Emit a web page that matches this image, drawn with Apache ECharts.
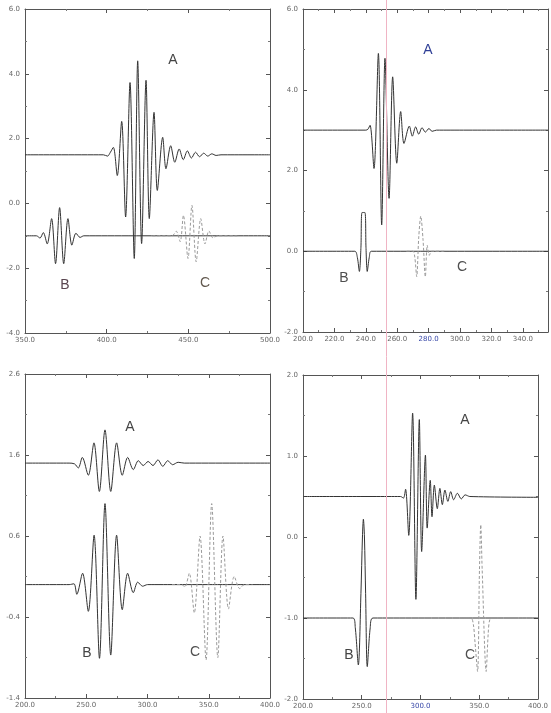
<!DOCTYPE html>
<html>
<head>
<meta charset="utf-8">
<script src="https://cdn.jsdelivr.net/npm/echarts@6/dist/echarts.min.js"></script>
<style>
  html, body { margin: 0; padding: 0; background: #ffffff; }
  #chart { width: 551px; height: 713px; }
</style>
</head>
<body>
<div id="chart"></div>
<script>
// ---- wave traces: [time, amplitude] pairs ----
// panel 1 (upper left)
const p1A = [[350,1.5],[398,1.5],[400.5,1.46],[402.3,1.58],[404.1,1.73],[406.5,0.86],[409.2,2.53],[411.6,-0.42],[414.3,3.73],[416.9,-1.70],[419.0,4.40],[421.4,-1.24],[424.1,3.8],[426.1,-0.47],[429.0,2.81],[431.0,0.40],[434.3,2.04],[436.3,1.07],[439.2,1.78],[441.7,1.27],[444.4,1.68],[446.9,1.35],[449.4,1.62],[451.9,1.40],[454.4,1.58],[456.9,1.44],[459.4,1.55],[461.9,1.46],[464.4,1.53],[467,1.48],[470,1.5],[500,1.5]];
const p1B = [[350,-1],[357,-1],[359.2,-1.07],[361.2,-0.9],[363.6,-1.25],[366.3,-0.47],[368.7,-1.86],[371.2,-0.13],[373.7,-1.86],[376.3,-0.47],[378.7,-1.29],[381.2,-0.92],[383.7,-1.05],[386,-1],[500,-1]];
const p1C = [[428,-1],[440,-1],[442.6,-0.86],[445,-1.18],[447,-0.37],[449.8,-1.70],[452.2,-0.06],[454.8,-1.80],[457.6,-0.47],[460.2,-1.25],[462.6,-0.85],[465,-1.06],[468,-1],[480,-1]];

// panel 2 (upper right)
const p2A = [[200,3],[240,3],[241.3,3.02],[242.7,3.12],[245.2,2.05],[248.0,4.90],[250.1,0.65],[252.2,4.78],[254.8,1.31],[257.1,4.32],[259.7,2.18],[262.2,3.46],[264.3,2.67],[267.7,3.10],[269.6,2.85],[271.7,3.08],[273.7,2.90],[275.8,3.06],[277.9,2.95],[280.2,3.04],[282.2,2.97],[285,3],[356,3]];
const p2B = [[200,0],[233,0],[234.6,-0.15],[235.9,-0.5],[236.9,0.1],[237.6,0.96],[239.4,0.96],[240.1,0.1],[240.9,-0.5],[242.2,-0.15],[243.5,0],[356,0]];
const p2C = [[266,0],[270,0],[271.2,-0.15],[272.4,-0.63],[273.7,0.35],[275,0.87],[276.4,0.3],[277.9,-0.63],[279.1,0.15],[280.4,-0.1],[282,0],[290,0]];

// panel 3 (lower left)
const p3A = [[200,1.5],[236,1.5],[240.5,1.49],[243.5,1.44],[246.8,1.57],[251.7,1.35],[256.3,1.75],[260.7,1.15],[265.3,1.91],[270,1.15],[274.8,1.75],[279.4,1.35],[283.8,1.57],[288.4,1.42],[292.5,1.53],[296.5,1.47],[300.5,1.52],[304.5,1.47],[308.5,1.54],[312.5,1.46],[316.5,1.53],[320.5,1.48],[325,1.51],[330,1.5],[400,1.5]];
const p3B = [[200,0],[236,0],[240,0.01],[242.3,-0.12],[247,0.14],[251.7,-0.33],[256.4,0.61],[260.8,-0.91],[265.3,1.0],[270,-0.87],[274.8,0.61],[279.4,-0.31],[283.8,0.14],[288.4,-0.1],[292,0.03],[296,-0.02],[300,0],[400,0]];
const p3C = [[320,0],[328,0],[330.5,-0.03],[334.1,0.14],[338.2,-0.35],[342.9,0.6],[347.8,-0.93],[352.4,1.0],[357.4,-0.9],[361.6,0.6],[366.1,-0.3],[370.8,0.1],[375.3,-0.05],[379,0],[385,0]];

// panel 4 (lower right)
const p4A = [[200,0.5],[283,0.5],[285.5,0.48],[287.3,0.59],[290.0,0.02],[293.3,1.53],[296.1,-0.77],[299.0,1.45],[301.0,-0.18],[304.2,1.01],[305.7,0.11],[308.3,0.70],[309.8,0.25],[311.8,0.64],[314.3,0.35],[316.5,0.60],[318.6,0.40],[320.8,0.58],[323.3,0.44],[325.7,0.56],[328.2,0.46],[331.4,0.54],[334.7,0.47],[338,0.52],[342,0.5],[400,0.49]];
const p4B = [[200,-1],[242.5,-1],[244.5,-1.12],[247.1,-1.58],[249.3,-0.7],[250.6,0.0],[251.4,0.22],[252.3,0.0],[253.3,-0.7],[254.7,-1.6],[257.2,-1.12],[259.6,-1.0],[400,-1]];
const p4C = [[336,-1],[343,-1],[345,-1.08],[346.4,-1.3],[348.6,-1.66],[350.2,-0.4],[351.3,0.15],[352.5,-0.4],[355.9,-1.66],[357.6,-1.2],[359,-1.02],[362,-1],[370,-1]];

// ---- axis scales: [min, max, step] ----
const xScale1 = [350, 500, 50], yScale1 = [-4, 6, 2];
const xScale2 = [200, 356, 20], yScale2 = [-2, 6, 2];
const xScale3 = [200, 400, 50], yScale3 = [-1.4, 2.6, 1];
const xScale4 = [200, 400, 50], yScale4 = [-2, 2, 1];

// tick values whose labels were inked in blue
const blueTicks2 = [280];
const blueTicks4 = [300];

const traceLabels = ['A', 'B', 'C'];

// ---- layout ----
const FONT = '"Liberation Sans", Arial, sans-serif';
const INK = '#333333';
const AXIS = '#555555';

const panels = [
  { box: { left: 25,  top: 9,   width: 245, height: 324 }, xs: xScale1, ys: yScale1, traces: [p1A, p1B, p1C], blue: [],
    tags: [[173, 60, '#444444'], [65, 285, '#5a4650'], [205, 283, '#62594f']] },
  { box: { left: 303, top: 9,   width: 245, height: 323 }, xs: xScale2, ys: yScale2, traces: [p2A, p2B, p2C], blue: blueTicks2,
    tags: [[428, 50, '#2f3f96'], [344, 278, '#4f4f4f'], [462, 267, '#4f4f4f']] },
  { box: { left: 25,  top: 374, width: 245, height: 324 }, xs: xScale3, ys: yScale3, traces: [p3A, p3B, p3C], blue: [],
    tags: [[130, 427, '#444444'], [87, 653, '#444444'], [195, 652, '#505050']] },
  { box: { left: 303, top: 375, width: 245, height: 324 }, xs: xScale4, ys: yScale4, traces: [p4A, p4B, p4C], blue: blueTicks4,
    tags: [[465, 420, '#444444'], [349, 655, '#444444'], [470, 655, '#505050']] }
];

const fmt = v => (Math.round(v * 10) / 10).toFixed(1);

function makeAxis(kind, gi, sc, position, withLabels, blue) {
  const step = sc[2];
  return {
    type: 'value', gridIndex: gi, position: position,
    min: sc[0], max: sc[1], interval: step,
    axisLine: { show: true, onZero: false, lineStyle: { color: AXIS, width: 1 } },
    axisTick: { show: true, inside: true, length: 4, lineStyle: { color: AXIS } },
    minorTick: { show: true, splitNumber: 2, length: 2, lineStyle: { color: '#777' } },
    splitLine: { show: false },
    axisLabel: {
      show: withLabels, fontSize: 7, color: '#666', fontFamily: '"DejaVu Sans", sans-serif',
      margin: kind === 'x' ? 4 : 5,
      rich: { b: { color: '#3848a8', fontSize: 7, fontFamily: '"DejaVu Sans", sans-serif' } },
      formatter: v => {
        const k = (v - sc[0]) / step;
        if (Math.abs(k - Math.round(k)) > 1e-6) return '';
        const s = fmt(v);
        return (blue || []).some(b => Math.abs(b - v) < 1e-6) ? '{b|' + s + '}' : s;
      }
    }
  };
}

const grid = [], xAxis = [], yAxis = [], series = [], graphic = [];

panels.forEach((p, i) => {
  grid.push(Object.assign({ containLabel: false }, p.box));
  xAxis.push(makeAxis('x', i, p.xs, 'bottom', true, p.blue));
  xAxis.push(makeAxis('x', i, p.xs, 'top', false));
  yAxis.push(makeAxis('y', i, p.ys, 'left', true));
  yAxis.push(makeAxis('y', i, p.ys, 'right', false));

  p.traces.forEach((tr, j) => {
    const dashed = j === 2;
    series.push({
      type: 'line', name: traceLabels[j] + (i + 1),
      xAxisIndex: 2 * i, yAxisIndex: 2 * i,
      data: tr, showSymbol: false, smooth: 0.3, silent: true,
      lineStyle: dashed
        ? { color: '#9a9a9a', width: 1, type: [3, 2] }
        : { color: INK, width: 1 },
      z: dashed ? 3 : 2
    });
  });

  p.tags.forEach((t, j) => {
    graphic.push({
      type: 'text', x: t[0], y: t[1], z: 10,
      style: { text: traceLabels[j], fill: t[2], fontSize: 14, fontFamily: FONT,
               align: 'center', verticalAlign: 'middle' }
    });
  });
});

// faint pink crease running down the sheet
graphic.push({
  type: 'line', z: 20, silent: true,
  shape: { x1: 386.5, y1: 0, x2: 386.5, y2: 713 },
  style: { stroke: '#f0b4c4', lineWidth: 1 }
});

const chart = echarts.init(document.getElementById('chart'), null, { renderer: 'canvas' });
chart.setOption({
  animation: false,
  backgroundColor: '#ffffff',
  grid, xAxis, yAxis, series, graphic
});
</script>
</body>
</html>
